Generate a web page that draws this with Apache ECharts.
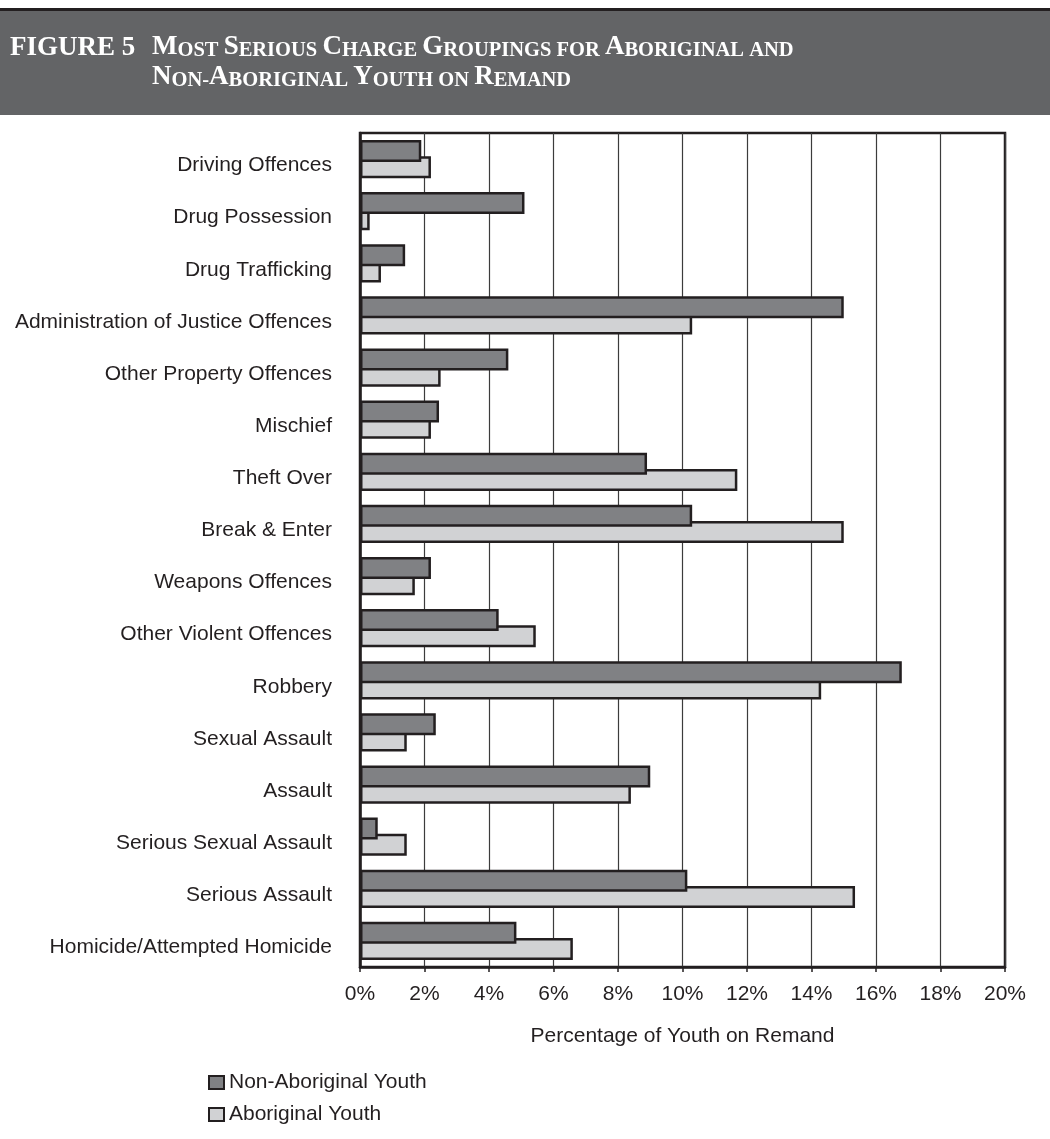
<!DOCTYPE html>
<html>
<head>
<meta charset="utf-8">
<title>Most Serious Charge Groupings</title>
<script src="https://cdn.jsdelivr.net/npm/echarts@6/dist/echarts.min.js"></script>
<style>
  html, body { margin: 0; padding: 0; background: #ffffff; }
  #chart { width: 1050px; height: 1139px; }
</style>
</head>
<body>
<div id="chart"></div>
<script>
// Charge groupings, listed top to bottom
const categories = [
  'Driving Offences',
  'Drug Possession',
  'Drug Trafficking',
  'Administration of Justice Offences',
  'Other Property Offences',
  'Mischief',
  'Theft Over',
  'Break & Enter',
  'Weapons Offences',
  'Other Violent Offences',
  'Robbery',
  'Sexual Assault',
  'Assault',
  'Serious Sexual Assault',
  'Serious Assault',
  'Homicide/Attempted Homicide'
];

// Percentage of youth on remand in each grouping
const nonAboriginal = [1.9, 5.1, 1.4, 15.0, 4.6, 2.45, 8.9, 10.3, 2.2, 4.3, 16.8, 2.35, 9.0, 0.55, 10.15, 4.85];
const aboriginal    = [2.2, 0.3, 0.65, 10.3, 2.5, 2.2, 11.7, 15.0, 1.7, 5.45, 14.3, 1.45, 8.4, 1.45, 15.35, 6.6];

const seriesNames = ['Non-Aboriginal Youth', 'Aboriginal Youth'];
const xTicks = { min: 0, max: 20, step: 2 };

const INK = '#231f20';
const SANS = "'Liberation Sans', Arial, sans-serif";
const SERIF = "'Liberation Serif', 'Times New Roman', serif";

// Turn a phrase into small-caps rich text: initial capitals large, the rest small
function smallCaps(phrase) {
  return phrase.split(' ').map(function (word) {
    let out = '';
    for (const ch of word) {
      if (ch >= 'A' && ch <= 'Z') out += '{c|' + ch + '}';
      else out += '{s|' + ch.toUpperCase() + '}';
    }
    return out;
  }).join('{s| }');
}

const capsRich = {
  c: { fontFamily: SERIF, fontWeight: 'bold', fontSize: 27, color: '#ffffff', verticalAlign: 'bottom', lineHeight: 30 },
  s: { fontFamily: SERIF, fontWeight: 'bold', fontSize: 20.5, color: '#ffffff', verticalAlign: 'bottom', lineHeight: 30 }
};

const chart = echarts.init(document.getElementById('chart'), null, { renderer: 'canvas' });

chart.setOption({
  animation: false,
  backgroundColor: '#ffffff',
  graphic: [
    { type: 'rect', z: 0, shape: { x: 0, y: 8, width: 1050, height: 4 }, style: { fill: INK } },
    { type: 'rect', z: 0, shape: { x: 0, y: 11, width: 1050, height: 104 }, style: { fill: '#636466' } }
  ],
  title: [
    {
      text: 'FIGURE 5',
      left: 10, top: 33, padding: 0,
      textStyle: { fontFamily: SERIF, fontWeight: 'bold', fontSize: 27, color: '#ffffff', lineHeight: 30 }
    },
    {
      text: smallCaps('Most Serious Charge Groupings for Aboriginal and'),
      left: 152, top: 31, padding: 0,
      textStyle: { rich: capsRich, lineHeight: 30 }
    },
    {
      text: smallCaps('Non-Aboriginal Youth on Remand'),
      left: 152, top: 61, padding: 0,
      textStyle: { rich: capsRich, lineHeight: 30 }
    }
  ],
  grid: {
    left: 360, right: 45, top: 133, bottom: 172,
    show: true, borderColor: INK, borderWidth: 2.5, backgroundColor: 'transparent'
  },
  legend: {
    orient: 'vertical',
    left: 208, top: 1072, padding: 0,
    itemWidth: 15, itemHeight: 13, itemGap: 11,
    icon: 'rect',
    textStyle: { fontFamily: SANS, fontSize: 21, color: INK },
    data: seriesNames
  },
  xAxis: {
    type: 'value',
    min: xTicks.min, max: xTicks.max, interval: xTicks.step,
    name: 'Percentage of Youth on Remand',
    nameLocation: 'middle', nameGap: 59,
    nameTextStyle: { fontFamily: SANS, fontSize: 21, color: INK },
    axisLine: { show: true, lineStyle: { color: INK, width: 2.5 } },
    axisTick: { show: true, length: 5, lineStyle: { color: INK, width: 1.5 } },
    axisLabel: { formatter: '{value}%', fontFamily: SANS, fontSize: 21, color: INK, margin: 17 },
    splitLine: { show: true, lineStyle: { color: '#3c3c3c', width: 1.2 } }
  },
  yAxis: {
    type: 'category',
    inverse: true,
    data: categories,
    axisLine: { show: true, lineStyle: { color: INK, width: 2.5 } },
    axisTick: { show: false },
    axisLabel: {
      margin: 28,
      // each name sits a little below the middle of its category band
      formatter: function (v) { return '{n|' + v + '}'; },
      rich: {
        n: { fontFamily: SANS, fontSize: 21, color: INK, lineHeight: 34, verticalAlign: 'bottom' }
      }
    },
    splitLine: { show: false }
  },
  series: [
    {
      name: seriesNames[0],
      type: 'bar',
      data: nonAboriginal,
      barWidth: 22,
      barGap: '-26%',
      z: 3,
      itemStyle: { color: '#808184', borderColor: INK, borderWidth: 2.5 }
    },
    {
      name: seriesNames[1],
      type: 'bar',
      data: aboriginal,
      barWidth: 22,
      barGap: '-26%',
      z: 2,
      itemStyle: { color: '#d1d2d4', borderColor: INK, borderWidth: 2.5 }
    }
  ]
});
</script>
</body>
</html>
